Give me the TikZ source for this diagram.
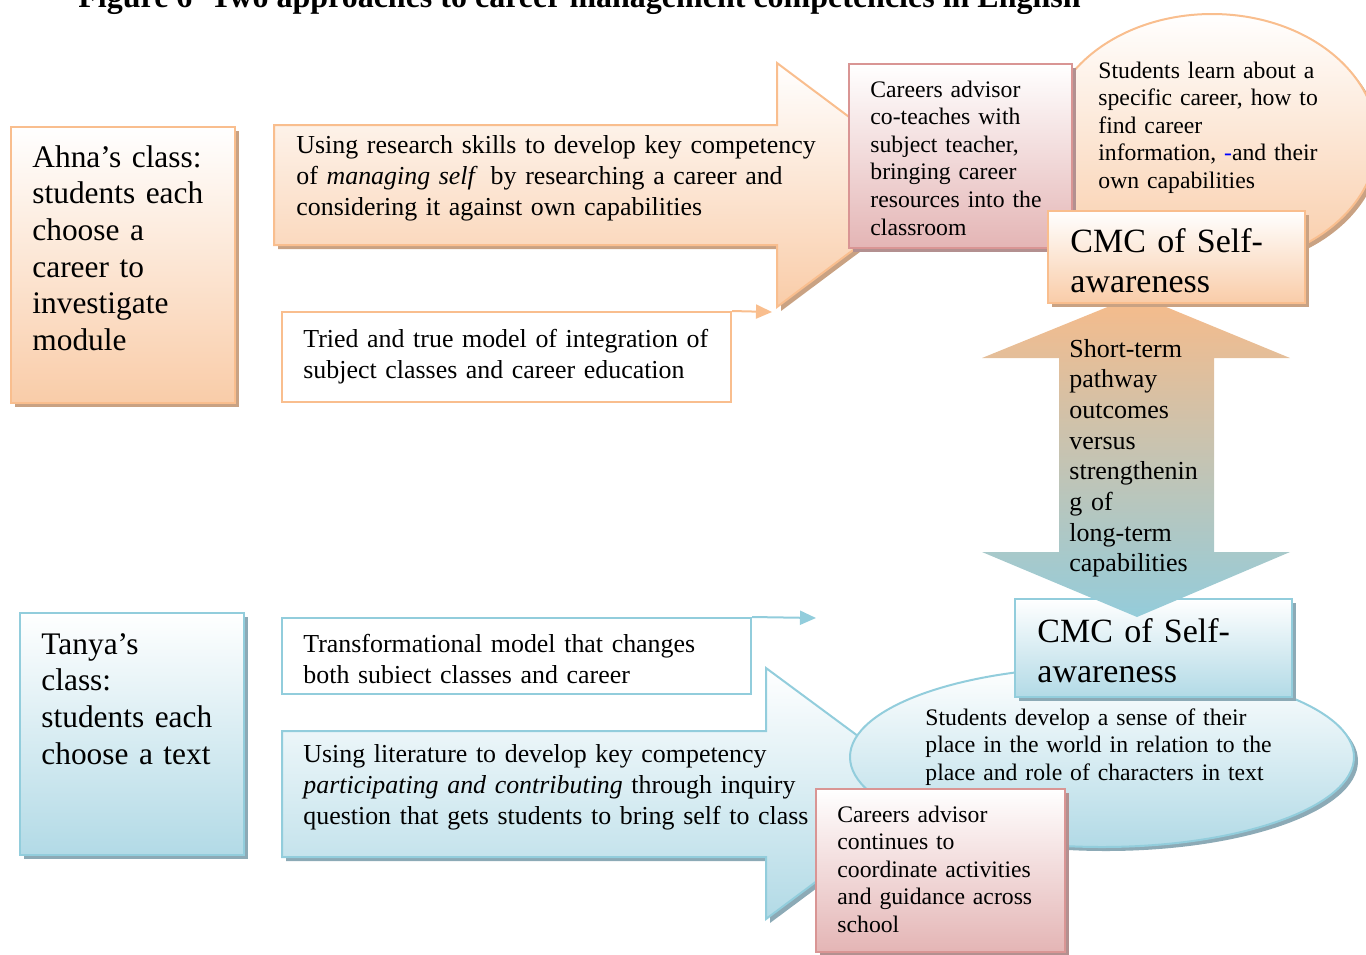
\documentclass[tikz,border=0pt]{standalone}
\usepackage{fontspec}
\setmainfont{Liberation Serif}
\usetikzlibrary{arrows.meta,shadows,shapes.geometric,fit}
\definecolor{oBorder}{HTML}{F9BE8E}
\definecolor{oFill}{HTML}{F9CCA8}
\definecolor{oShadow}{HTML}{C9A283}
\definecolor{bBorder}{HTML}{92CDDC}
\definecolor{bFill}{HTML}{B2DAE6}
\definecolor{bShadow}{HTML}{8CAAB6}
\definecolor{pBorder}{HTML}{D99594}
\definecolor{pFill}{HTML}{E4B5B5}
\definecolor{pShadow}{HTML}{B39090}
\definecolor{aOrange}{HTML}{F7BB8A}
\definecolor{aBlue}{HTML}{94CCDA}
\tikzset{
  shO/.style={general shadow={fill=oShadow, shadow xshift=2pt, shadow yshift=-2pt}},
  shB/.style={general shadow={fill=bShadow, shadow xshift=2pt, shadow yshift=-2pt}},
  shP/.style={general shadow={fill=pShadow, shadow xshift=2pt, shadow yshift=-2pt}},
  obox/.style={draw=oBorder, line width=1pt, top color=white, bottom color=oFill, shO, inner sep=0pt},
  bbox/.style={draw=bBorder, line width=1pt, top color=white, bottom color=bFill, shB, inner sep=0pt},
  pbox/.style={draw=pBorder, line width=1pt, top color=white, bottom color=pFill, shP, inner sep=0pt},
  plainO/.style={draw=oBorder, line width=1pt, fill=white, inner sep=0pt},
  plainB/.style={draw=bBorder, line width=1pt, fill=white, inner sep=0pt},
  txt/.style={anchor=base west, inner sep=0pt, align=left, text width=#1},
  txt/.default=320pt,
  fL/.style={font=\fontsize{15.7}{18.35}\selectfont},
  fM/.style={font=\fontsize{12.95}{15.5}\selectfont},
  fD/.style={font=\fontsize{13}{15.35}\selectfont},
  fS/.style={font=\fontsize{11.85}{13.8}\selectfont},
  fC/.style={font=\fontsize{17}{20}\selectfont},
  conO/.style={draw=oBorder, line width=1pt, -{Triangle[length=8pt,width=7pt]}},
  conB/.style={draw=bBorder, line width=1pt, -{Triangle[length=8pt,width=7pt]}},
}
\begin{document}
\begin{tikzpicture}[x=0.5pt,y=-0.5pt]
\useasboundingbox (0,0) rectangle (1366,954);

% title (partly cut off at the top)
\node[anchor=base west, inner sep=0pt, font=\fontsize{16}{19}\selectfont\bfseries] (title) at (78,7)
  {Figure 6\hspace{9pt}Two approaches to career management competencies in English};

% left class boxes
\node[obox, fit={(11,127) (235,403)}] (ahna) {};
\node[txt=150pt, fL] (ahnaT) at (32,167) {Ahna’s class:\\students each\\choose a\\career to\\investigate\\module};

\node[bbox, fit={(20,613) (244,855)}] (tanya) {};
\node[txt=150pt, fL] (tanyaT) at (41,654) {Tanya’s\\class:\\students each\\choose a text};

% big orange arrow
\path[shO, draw=oBorder, line width=1pt, top color=white, bottom color=oFill]
  (274,125) coordinate (oa1) -- (777,125) -- (777,63) -- (940,185) coordinate (oaTip)
  -- (777,307) -- (777,245) -- (274,245) -- cycle;
\node[txt, fM] (oaT) at (296,153) {Using research skills to develop key competency\\of \textit{managing self}\, by researching a career and\\considering it against own capabilities};

% tried and true box
\node[plainO, fit={(282,312) (731,402)}] (tried) {};
\coordinate (triedEnd) at (772,312);
\draw[conO] (tried.north east) -- (triedEnd);
\node[txt, fM] (triedT) at (303,347) {Tried and true model of integration of\\subject classes and career education};

% orange ellipse
\node[ellipse, draw=oBorder, line width=1pt, top color=white, bottom color=oFill, shO,
  minimum width=330pt*0.5, minimum height=252pt*0.5, inner sep=0pt] (oell) at (1212,140) {};
\node[txt=150pt, fS] (oellT) at (1098,78) {Students learn about a\\specific career, how to\\find career\\information, {\color{blue}-}and their\\own capabilities};

% careers advisor (top)
\node[pbox, fit={(849,64) (1072,248)}] (care1) {};
\node[txt=150pt, fS] (care1T) at (870,97) {Careers advisor\\co-teaches with\\subject teacher,\\bringing career\\resources into the\\classroom};

% big blue arrow
\path[shB, draw=bBorder, line width=1pt, top color=white, bottom color=bFill]
  (282,731) coordinate (ba1) -- (766,731) -- (766,668) -- (935,793) coordinate (baTip)
  -- (766,919) -- (766,857) -- (282,857) -- cycle;
\node[txt, fM] (baT) at (303,762) {Using literature to develop key competency\\\textit{participating and contributing} through inquiry\\question that gets students to bring self to class};

% transformational box
\node[plainB, fit={(282,618) (751,694)}] (trans) {};
\coordinate (transEnd) at (816,618);
\draw[conB] (trans.north east) -- (transEnd);
\node[txt, fM] (transT) at (303,652) {Transformational model that changes\\both subiect classes and career};

% blue ellipse
\node[ellipse, draw=bBorder, line width=1pt, top color=white, bottom color=bFill, shB,
  minimum width=504pt*0.5, minimum height=180pt*0.5, inner sep=0pt] (bell) at (1102,757) {};
\node[txt=200pt, fS] (bellT) at (925,725) {Students develop a sense of their\\place in the world in relation to the\\place and role of characters in text};

% CMC bottom box
\node[bbox, fit={(1015,599) (1292,697)}] (cmc2) {};
\node[txt=150pt, fC] (cmc2T) at (1037,642) {CMC of Self-\\awareness};

% double arrow
\path[top color=aOrange, bottom color=aBlue]
  (1137,295) coordinate (daTop) -- (1290,358) -- (1214,358) -- (1214,552) -- (1290,552)
  -- (1137,617) coordinate (daBot) -- (982,552) -- (1059,552) -- (1059,358) -- (982,358) -- cycle;
\node[txt=120pt, fD] (daT) at (1069,357) {Short-term\\pathway\\outcomes\\versus\\strengthenin\\g of\\long-term\\capabilities};

% CMC top box
\node[obox, fit={(1048,211) (1305,303)}] (cmc1) {};
\node[txt=150pt, fC] (cmc1T) at (1070,252) {CMC of Self-\\awareness};

% careers advisor (bottom)
\node[pbox, fit={(816,789) (1065,952)}] (care2) {};
\node[txt=150pt, fS] (care2T) at (837,822) {Careers advisor\\continues to\\coordinate activities\\and guidance across\\school};
\end{tikzpicture}
\end{document}
